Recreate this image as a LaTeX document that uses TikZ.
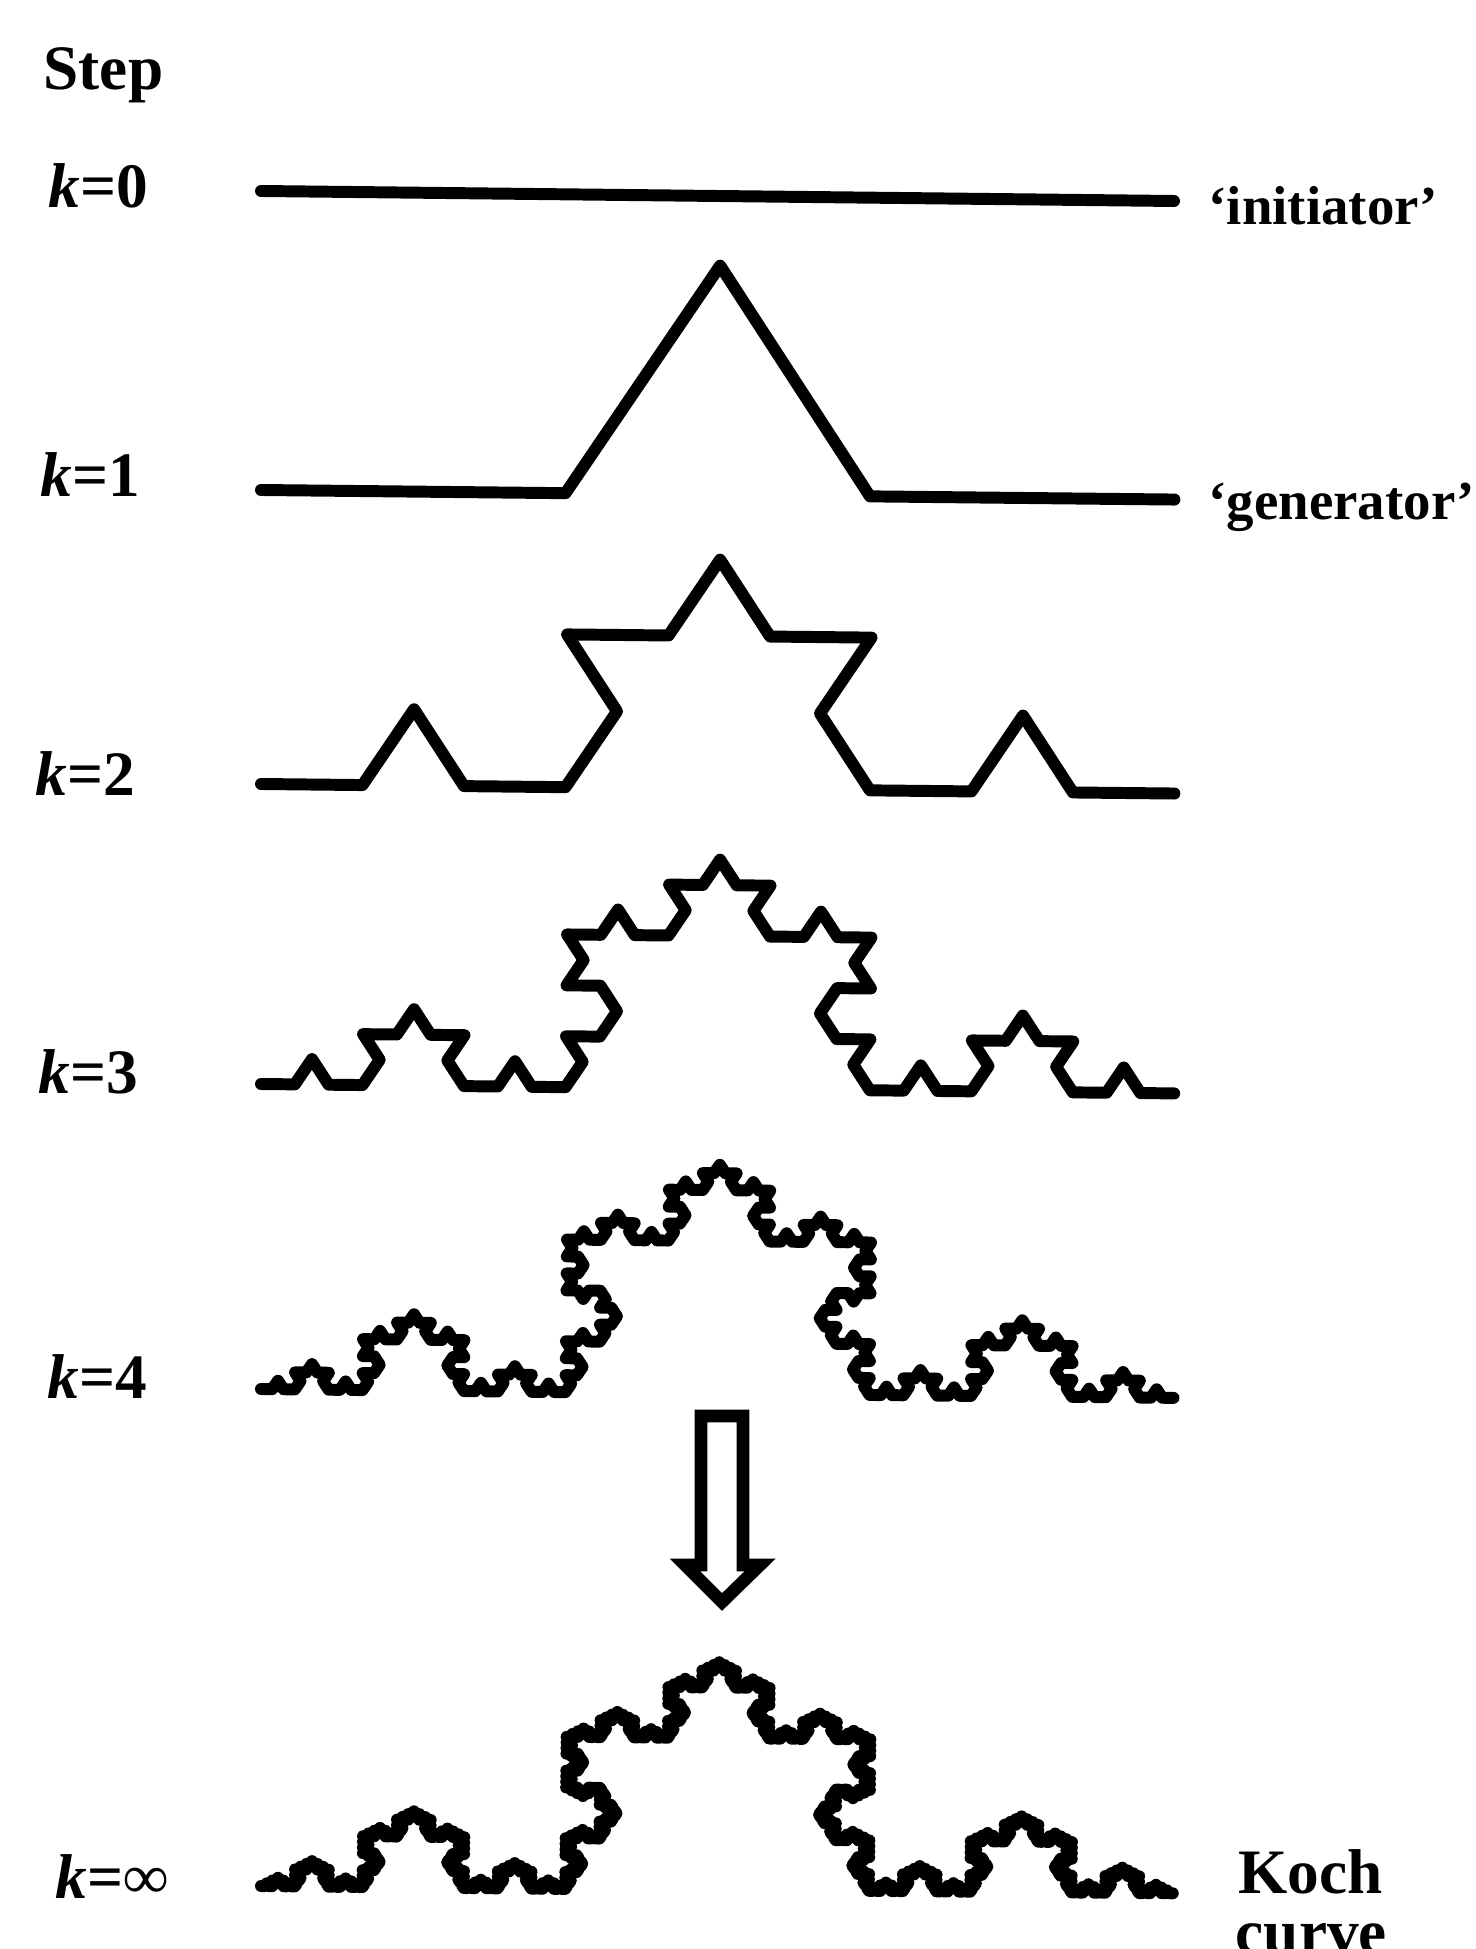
\documentclass[tikz,border=0pt]{standalone}
\usepackage{fontspec}
\setmainfont{Liberation Serif}
\usetikzlibrary{lindenmayersystems}
\pgfdeclarelindenmayersystem{kochsys}{\rule{F -> F+F--F+F}}
\begin{document}
\begin{tikzpicture}[x=0.01cm,y=-0.01cm,
  curvestyle/.style={line width=3.4pt, line join=round, line cap=round},
  lab/.style={font=\fontsize{18pt}{21pt}\selectfont\bfseries, inner sep=0pt, anchor=base west},
  qlab/.style={font=\fontsize{15.6pt}{18pt}\selectfont\bfseries, inner sep=0pt, anchor=base west},
  row/.style={shift={#1}, rotate=-0.6, yscale=0.869}]
\useasboundingbox (0,0) rectangle (1475,1949);

% left labels
\node[lab] (step) at (43,90) {Step};
\node[lab] (k0) at (48,208) {\textit{k}=0};
\node[lab] (k1) at (40,497) {\textit{k}=1};
\node[lab] (k2) at (35,795) {\textit{k}=2};
\node[lab] (k3) at (38,1093) {\textit{k}=3};
\node[lab] (k4) at (47,1398) {\textit{k}=4};
\node[lab] (kinf) at (55,1898) {\textit{k}=∞};

% right labels
\node[qlab] (init) at (1208,225) {‘initiator’};
\node[qlab] (gen) at (1208,520) {‘generator’};
\node[lab] (kochlab) at (1238,1893) {Koch};
\node[lab] (curvelab) at (1235,1953) {curve};

% k = 0 initiator
\draw[curvestyle] (261,191) -- (1174,201);

% k = 1 .. 4 and infinity
\begin{scope}[row={(261,490)}]
  \draw[curvestyle] (0,0) l-system [l-system={kochsys, axiom=F, order=1, step=3.04333cm, angle=60}];
\end{scope}
\begin{scope}[row={(261,784)}]
  \draw[curvestyle] (0,0) l-system [l-system={kochsys, axiom=F, order=2, step=1.01444cm, angle=60}];
\end{scope}
\begin{scope}[row={(261,1084)}]
  \draw[curvestyle] (0,0) l-system [l-system={kochsys, axiom=F, order=3, step=0.338148cm, angle=60}];
\end{scope}
\begin{scope}[row={(261,1389)}]
  \draw[curvestyle] (0,0) l-system [l-system={kochsys, axiom=F, order=4, step=0.112716cm, angle=60}];
\end{scope}
\begin{scope}[row={(261,1886)}]
  \draw[curvestyle] (0,0) l-system [l-system={kochsys, axiom=F, order=5, step=0.037572cm, angle=60}];
\end{scope}

% hollow arrow
\draw[line width=3.6pt, line join=miter] (701,1416) -- (743,1416) -- (743,1565) -- (760,1565) -- (722,1602) -- (685,1565) -- (701,1565) -- cycle;
\end{tikzpicture}
\end{document}
